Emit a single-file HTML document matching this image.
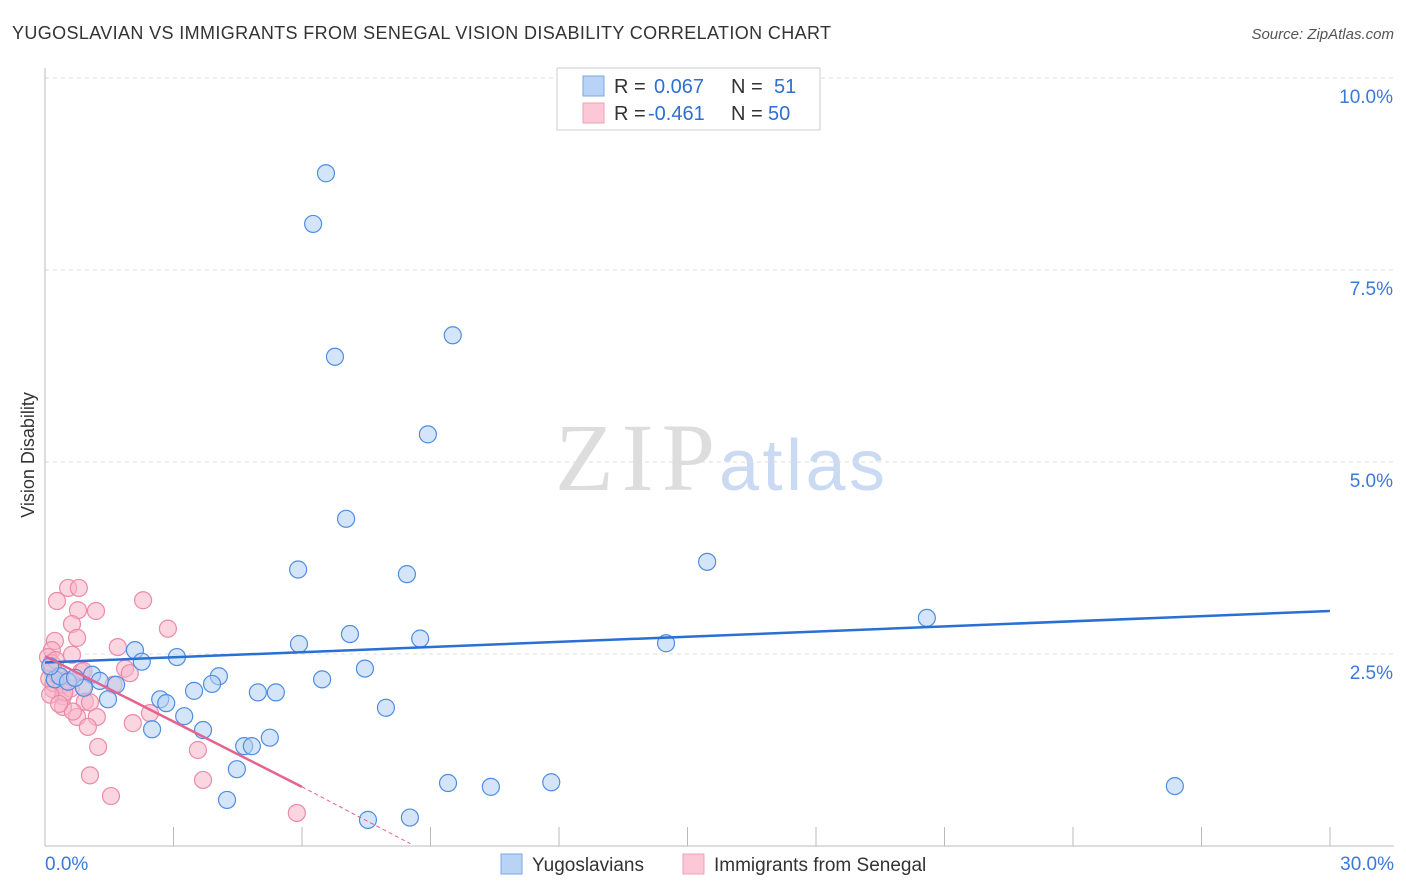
<!DOCTYPE html>
<html><head><meta charset="utf-8"><style>
body{margin:0;background:#fff;font-family:"Liberation Sans",sans-serif}
svg{display:block}
</style></head><body>
<svg id="c" width="1406" height="892">
<text x="12" y="39" font-size="18" fill="#333" textLength="819">YUGOSLAVIAN VS IMMIGRANTS FROM SENEGAL VISION DISABILITY CORRELATION CHART</text>
<text x="1394" y="39" font-size="15" fill="#555" text-anchor="end" font-style="italic">Source: ZipAtlas.com</text>
<text x="34" y="455" font-size="18" fill="#333" text-anchor="middle" transform="rotate(-90 34 455)">Vision Disability</text>
<text x="635" y="490" font-size="96" fill="#ddd" font-family="Liberation Serif" text-anchor="middle" textLength="160">ZIP</text>
<text x="802" y="490" font-size="72" fill="#c9daf2" text-anchor="middle" textLength="166">atlas</text>
<g id="grid"></g><g id="pts"></g><g id="lines"></g>
<g font-size="20">
<rect x="557" y="68" width="263" height="62" fill="#fff" stroke="#ccc"/>
<rect x="583" y="76" width="21" height="20" fill="#b9d3f7" stroke="#7aa7e6"/>
<rect x="583" y="103" width="21" height="20" fill="#fcc7d6" stroke="#eea0b7"/>
<text x="614" y="93" fill="#333">R =</text><text x="654" y="93" fill="#2f6fd0">0.067</text>
<text x="731" y="93" fill="#333">N =</text><text x="774" y="93" fill="#2f6fd0">51</text>
<text x="614" y="120" fill="#333">R =</text><text x="648" y="120" fill="#2f6fd0">-0.461</text>
<text x="731" y="120" fill="#333">N =</text><text x="768" y="120" fill="#2f6fd0">50</text>
</g>
<g>
<rect x="501" y="854" width="21" height="20" fill="#b9d3f7" stroke="#7aa7e6"/>
<text x="532" y="871" font-size="19" fill="#333">Yugoslavians</text>
<rect x="683" y="854" width="21" height="20" fill="#fcc7d6" stroke="#eea0b7"/>
<text x="714" y="871" font-size="19" fill="#333">Immigrants from Senegal</text>
</g>
</svg>
<script>
const yTicks=[2.5,5,7.5,10];
const yTickLabels=["2.5%","5.0%","7.5%","10.0%"];
const xTickLabels=["0.0%","30.0%"];
const blueX=[6.56,6.26,6.77,9.52,8.94,7.03,5.91,8.45,15.46,20.59,14.5,5.93,7.12,8.76,2.1,2.26,3.08,1.1,1.28,1.66,4.06,3.9,3.48,4.97,5.39,6.47,7.47,2.69,2.83,1.47,3.25,3.69,2.5,4.65,4.83,5.25,7.96,4.48,4.25,9.41,10.41,11.82,26.38,7.54,8.52,0.23,0.35,0.54,0.91,0.7,0.12];
const blueY=[8.76,8.1,6.37,6.65,5.36,4.26,3.6,3.54,3.7,2.97,2.64,2.63,2.76,2.7,2.55,2.4,2.46,2.23,2.15,2.1,2.21,2.11,2.02,2.0,2.0,2.17,2.31,1.91,1.86,1.91,1.69,1.51,1.52,1.3,1.3,1.41,1.8,1.0,0.6,0.82,0.77,0.83,0.78,0.34,0.37,2.17,2.21,2.14,2.06,2.19,2.34];
const pinkX=[0.54,0.79,0.28,2.29,0.77,1.19,2.87,0.63,0.75,0.23,1.7,0.16,0.63,0.07,1.87,1.98,0.16,0.35,0.89,0.19,0.42,0.93,1.05,0.42,1.21,0.75,1.0,2.45,2.05,1.24,3.57,1.05,3.69,1.54,5.88,0.1,0.2,0.3,0.4,0.5,0.6,0.15,0.25,0.45,0.65,0.85,0.12,0.33,1.6,0.9];
const pinkY=[3.36,3.36,3.19,3.2,3.07,3.06,2.83,2.89,2.71,2.67,2.59,2.55,2.49,2.46,2.31,2.25,2.3,2.21,2.08,2.04,1.95,1.88,1.87,1.81,1.68,1.68,1.55,1.73,1.6,1.29,1.25,0.92,0.86,0.65,0.43,2.18,2.12,2.22,2.1,2.16,2.05,2.38,2.42,2.0,1.75,2.27,1.97,1.85,2.1,2.28];
const blueTrend=[2.39,3.06];
const pinkTrend=[2.47,0.77,0.03];
const pinkTrendX=[0,6,8.53];
const X=v=>45+v*42.83, Y=v=>846-v*76.8;
const ns="http://www.w3.org/2000/svg";
function mk(t,a,p){const e=document.createElementNS(ns,t);for(const k in a)e.setAttribute(k,a[k]);p.appendChild(e);return e;}
const g=document.getElementById('grid');
yTicks.forEach((v,i)=>{const l=mk('line',{x1:45,x2:1394,y1:Y(v),y2:Y(v),stroke:'#ddd','stroke-dasharray':'4,4'},g);


const t=mk('text',{x:1393,y:Y(v)+25,'font-size':19,fill:'#3b78d8','text-anchor':'end'},g);t.textContent=yTickLabels[i];

});
mk('line',{x1:45,x2:45,y1:68,y2:846,stroke:'#bbb'},g);
mk('line',{x1:45,x2:1394,y1:846,y2:846,stroke:'#bbb'},g);
for(let i=1;i<=10;i++){const l=mk('line',{x1:45+i*128.5,x2:45+i*128.5,y1:827,y2:846,stroke:'#bbb'},g);

}
[[45,'start',0],[1394,'end',1]].forEach(([x,a,i])=>{const t=mk('text',{x:x,y:870,'font-size':19,fill:'#3b78d8','text-anchor':a},g);t.textContent=xTickLabels[i];

});
const p=document.getElementById('pts');
function dots(xs,ys,f,s,n){xs.forEach((x,i)=>{const c=mk('circle',{cx:X(x),cy:Y(ys[i]),r:8.5,fill:f,'fill-opacity':0.55,stroke:s,'stroke-width':1.2},p);

});}
dots(pinkX,pinkY,'#f8b4c8','#ec8aa8','senegal-point');
dots(blueX,blueY,'#b3cff4','#4f8de0','yugoslavian-point');
const L=document.getElementById('lines');
const bl=mk('line',{x1:X(0),y1:Y(blueTrend[0]),x2:X(30),y2:Y(blueTrend[1]),stroke:'#2a6fd4','stroke-width':2.5},L);


const pl=mk('line',{x1:X(pinkTrendX[0]),y1:Y(pinkTrend[0]),x2:X(pinkTrendX[1]),y2:Y(pinkTrend[1]),stroke:'#e4638f','stroke-width':2.5},L);


const pd=mk('line',{x1:X(pinkTrendX[1]),y1:Y(pinkTrend[1]),x2:X(pinkTrendX[2]),y2:Y(pinkTrend[2]),stroke:'#e4638f','stroke-width':1,'stroke-dasharray':'4,3'},L);


</script>
</body></html>
